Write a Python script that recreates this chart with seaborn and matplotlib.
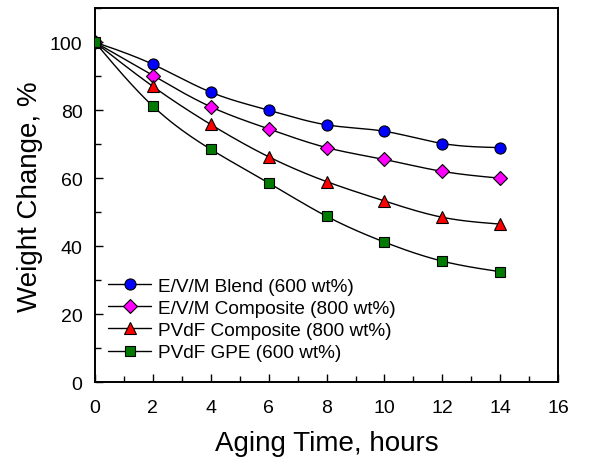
import numpy as np
import pandas as pd
import seaborn as sns
import matplotlib
matplotlib.use("Agg")
import matplotlib.pyplot as plt
from matplotlib.ticker import MultipleLocator

hours = [0, 2, 4, 6, 8, 10, 12, 14]
evm_blend = [100, 93.5, 85.3, 80.0, 75.7, 73.8, 70.2, 69.0]
evm_comp = [100, 90.2, 81.0, 74.5, 69.0, 65.5, 62.0, 60.0]
pvdf_comp = [100, 87.0, 75.8, 66.3, 59.0, 53.3, 48.5, 46.5]
pvdf_gpe = [100, 81.2, 68.5, 58.6, 48.8, 41.2, 35.6, 32.5]

labels = ["E/V/M Blend (600 wt%)", "E/V/M Composite (800 wt%)",
          "PVdF Composite (800 wt%)", "PVdF GPE (600 wt%)"]
series = [evm_blend, evm_comp, pvdf_comp, pvdf_gpe]
colors = ["#0000FF", "#FF00FF", "#FF0000", "#007A00"]
markers = ["o", "D", "^", "s"]
msizes = [8, 7, 8, 7.5]

sns.set_theme(style="ticks")
plt.rcParams['font.family'] = ['Liberation Sans', 'DejaVu Sans']
plt.rcParams['text.color'] = 'black'
plt.rcParams['axes.labelcolor'] = 'black'


def spline(x, y, n=200):
    x = np.asarray(x, float); y = np.asarray(y, float)
    m = len(x); h = np.diff(x)
    A = np.zeros((m, m)); b = np.zeros(m)
    A[0, 0] = A[-1, -1] = 1
    for i in range(1, m - 1):
        A[i, i - 1] = h[i - 1]; A[i, i] = 2 * (h[i - 1] + h[i]); A[i, i + 1] = h[i]
        b[i] = 3 * ((y[i + 1] - y[i]) / h[i] - (y[i] - y[i - 1]) / h[i - 1])
    c = np.linalg.solve(A, b)
    xs = np.linspace(x[0], x[-1], n); ys = np.empty_like(xs)
    for k, xv in enumerate(xs):
        i = min(np.searchsorted(x, xv, side='right') - 1, m - 2)
        dx = xv - x[i]
        bb = (y[i + 1] - y[i]) / h[i] - h[i] * (2 * c[i] + c[i + 1]) / 3
        d = (c[i + 1] - c[i]) / (3 * h[i])
        ys[k] = y[i] + bb * dx + c[i] * dx ** 2 + d * dx ** 3
    return xs, ys


fig = plt.figure(figsize=(5.97, 4.60), dpi=100)
ax = fig.add_axes([0.159, 0.167, 0.776, 0.813])

for lab, ys_, col, mk, ms in zip(labels, series, colors, markers, msizes):
    sx, sy = spline(hours, ys_)
    sns.lineplot(x=sx, y=sy, ax=ax, color="black", lw=1.0, sort=False, legend=False, zorder=2)
    df = pd.DataFrame({"h": hours, "v": ys_})
    ax.plot(df["h"], df["v"], linestyle="none", marker=mk, markersize=ms,
            markerfacecolor=col, markeredgecolor="black", markeredgewidth=0.8, zorder=3)

handles = [plt.Line2D([], [], color="black", lw=1.0, marker=mk, markersize=ms,
                      markerfacecolor=col, markeredgecolor="black", markeredgewidth=0.8)
           for col, mk, ms in zip(colors, markers, msizes)]
ax.legend(handles, labels, loc="lower left", bbox_to_anchor=(0.0, 0.02), frameon=False,
          fontsize=13.7, handlelength=2.25, handletextpad=0.35, labelspacing=0.26,
          borderaxespad=0.3, labelcolor="black")

ax.set_xlim(0, 16)
ax.set_ylim(0, 110)
ax.xaxis.set_major_locator(MultipleLocator(2))
ax.xaxis.set_minor_locator(MultipleLocator(1))
ax.yaxis.set_major_locator(MultipleLocator(20))
ax.yaxis.set_minor_locator(MultipleLocator(10))
ax.set_yticks([0, 20, 40, 60, 80, 100])
ax.tick_params(which="both", direction="in", top=False, right=False, labelsize=14,
               colors="black", labelcolor="black", width=1.0)
ax.tick_params(which="major", length=6)
ax.tick_params(axis="x", which="major", pad=12)
ax.tick_params(axis="y", which="major", pad=9)
ax.tick_params(which="minor", length=4)
for s in ax.spines.values():
    s.set_visible(True); s.set_color("black"); s.set_linewidth(1.4)
ax.set_xlabel("Aging Time, hours", fontsize=20, labelpad=10, color="black")
ax.set_ylabel("Weight Change, %", fontsize=20, labelpad=5, color="black")

fig.savefig("out.png", dpi=100)
